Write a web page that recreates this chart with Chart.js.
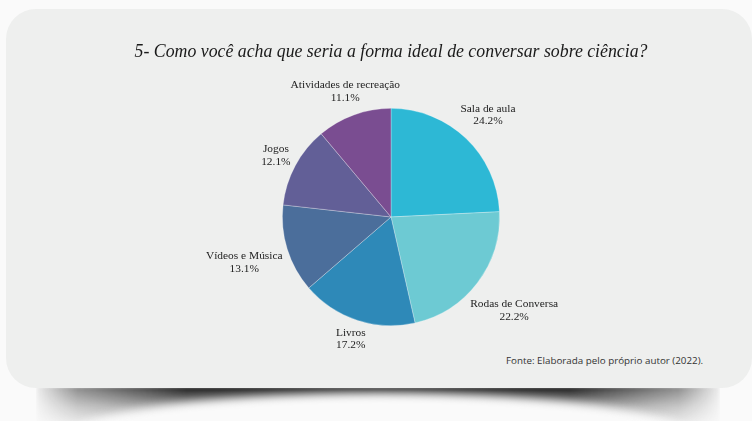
<!DOCTYPE html>
<html>
<head>
<meta charset="utf-8">
<script src="https://cdn.jsdelivr.net/npm/chart.js@4.4.0/dist/chart.umd.min.js"></script>
<style>
  html, body { margin: 0; padding: 0; background: #fafafa; }
  #wrap { position: relative; width: 752px; height: 421px; overflow: hidden; }
  .sombra {
    position: absolute; left: 36px; top: 387px; width: 684px; height: 36px;
    background: linear-gradient(to bottom, rgba(30,30,30,1), rgba(70,70,70,0.55) 55%, rgba(110,110,110,0.2));
    -webkit-mask-image: linear-gradient(to right, rgba(0,0,0,0.05), rgba(0,0,0,0.5) 6%, #000 22%, #000 78%, rgba(0,0,0,0.5) 94%, rgba(0,0,0,0.05));
    mask-image: linear-gradient(to right, rgba(0,0,0,0.05), rgba(0,0,0,0.5) 6%, #000 22%, #000 78%, rgba(0,0,0,0.5) 94%, rgba(0,0,0,0.05));
    filter: blur(1.5px);
  }
  .corte {
    position: absolute; left: 62px; top: 393px; width: 636px; height: 96px;
    border-radius: 50%; background: #fafafa; filter: blur(5px);
  }
  .cartao {
    position: absolute; left: 6px; top: 9px; width: 746px; height: 379px;
    border-radius: 30px; background: #eeefee;
  }
  .fonte {
    position: absolute; left: 506px; top: 354px;
    font-family: "Open Sans", sans-serif; font-size: 9.8px; color: #333;
  }
  canvas { position: absolute; left: 0; top: 0; }
</style>
</head>
<body>
<div id="wrap">
  <div class="sombra"></div>
  <div class="corte"></div>
  <div class="cartao"></div>
  <div class="fonte">Fonte: Elaborada pelo próprio autor (2022).</div>
  <canvas id="grafico" width="752" height="421"></canvas>
</div>
<script>
const titulo = '5- Como você acha que seria a forma ideal de conversar sobre ciência?';
const categorias = ['Sala de aula', 'Rodas de Conversa', 'Livros', 'Vídeos e Música', 'Jogos', 'Atividades de recreação'];
const percentuais = [24.2, 22.2, 17.2, 13.1, 12.1, 11.1];
const cores = ['#2db8d5', '#6dcad3', '#2e89b8', '#4b6e9b', '#625f97', '#7a4d91'];

// distância extra (px) do rótulo além da borda da pizza
const afastamento = [32, 46, 20, 45, 22, 25];

const rotulosFora = {
  id: 'rotulosFora',
  afterDatasetsDraw(chart) {
    const ctx = chart.ctx;
    const meta = chart.getDatasetMeta(0);
    ctx.save();
    ctx.font = '11.4px "Liberation Serif", "Times New Roman", serif';
    ctx.fillStyle = '#222';
    ctx.textAlign = 'center';
    ctx.textBaseline = 'middle';
    meta.data.forEach((arc, i) => {
      const meio = (arc.startAngle + arc.endAngle) / 2;
      const r = arc.outerRadius + afastamento[i];
      const x = arc.x + Math.cos(meio) * r;
      const y = arc.y + Math.sin(meio) * r;
      ctx.fillText(categorias[i], x, y - 6.3);
      ctx.fillText(percentuais[i].toFixed(1) + '%', x, y + 6.3);
    });
    ctx.restore();
  }
};

new Chart(document.getElementById('grafico'), {
  type: 'pie',
  data: {
    labels: categorias,
    datasets: [{
      data: percentuais,
      backgroundColor: cores,
      borderColor: 'rgba(255,255,255,0.35)',
      borderWidth: 0.8
    }]
  },
  options: {
    responsive: false,
    animation: false,
    layout: { padding: { left: 30, right: 0, top: 0, bottom: 95 } },
    plugins: {
      legend: { display: false },
      tooltip: { enabled: false },
      title: {
        display: true,
        text: titulo,
        color: '#1a1a1a',
        font: { family: '"Liberation Serif", "Times New Roman", serif', size: 17.8, style: 'italic', weight: 'normal', lineHeight: 1.2 },
        padding: { top: 42, bottom: 44.6 }
      }
    }
  },
  plugins: [rotulosFora]
});
</script>
</body>
</html>
